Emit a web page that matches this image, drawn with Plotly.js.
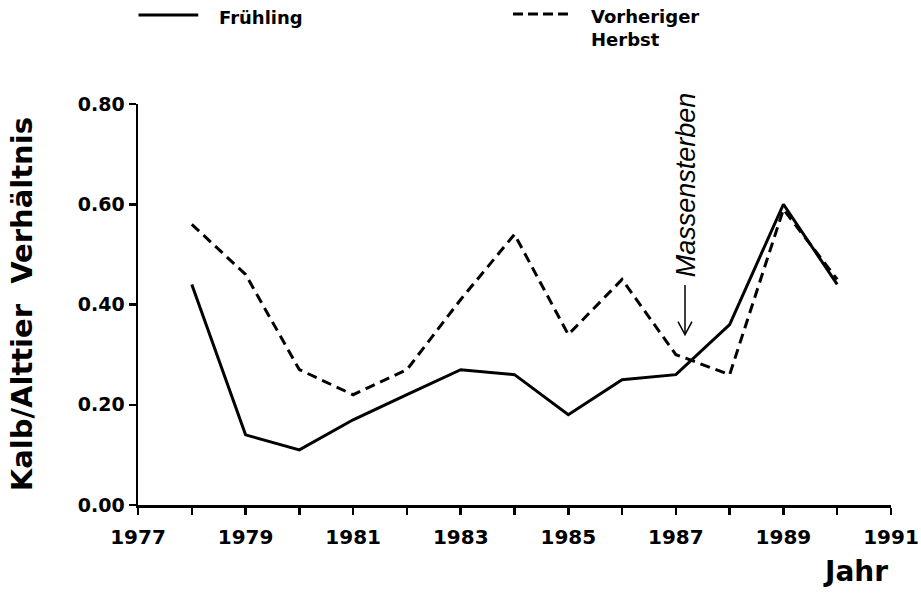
<!DOCTYPE html>
<html>
<head>
<meta charset="utf-8">
<script src="https://cdn.plot.ly/plotly-3.0.1.min.js"></script>
<style>
  html, body { margin: 0; padding: 0; background: #fff; }
  #chart { width: 921px; height: 593px; }
</style>
</head>
<body>
<div id="chart"></div>
<script>
// ---- data ----
const years = [1978, 1979, 1980, 1981, 1982, 1983, 1984, 1985, 1986, 1987, 1988, 1989, 1990];
const fruehling = [0.44, 0.14, 0.11, 0.17, 0.22, 0.27, 0.26, 0.18, 0.25, 0.26, 0.36, 0.60, 0.44];
const herbst = [0.56, 0.46, 0.27, 0.22, 0.27, 0.41, 0.54, 0.34, 0.45, 0.30, 0.26, 0.59, 0.45];
const tickYears = [1977, 1978, 1979, 1980, 1981, 1982, 1983, 1984, 1985, 1986, 1987, 1988, 1989, 1990, 1991];
const tickYearLabels = ['1977', '', '1979', '', '1981', '', '1983', '', '1985', '', '1987', '', '1989', '', '1991'];
const yTickVals = [0, 0.2, 0.4, 0.6, 0.8];
const yTickLabels = ['0.00', '0.20', '0.40', '0.60', '0.80'];
const seriesNames = ['Frühling', 'Vorheriger<br>Herbst'];
const eventYear = 1987.17;
const eventLabel = 'Massensterben';
const xTitle = 'Jahr';
const yTitle = 'Kalb/Alttier  Verhältnis';

const boldFont = { family: 'DejaVu Sans, Arial, sans-serif', color: '#000', weight: 700 };
const DASH = '10px,6px';

const traces = [
  { x: years, y: fruehling, type: 'scatter', mode: 'lines', name: seriesNames[0],
    line: { color: '#000', width: 3 }, showlegend: false },
  { x: years, y: herbst, type: 'scatter', mode: 'lines', name: seriesNames[1],
    line: { color: '#000', width: 3, dash: DASH }, showlegend: false }
];

const layout = {
  width: 921, height: 593,
  margin: { l: 137.5, r: 30, t: 104, b: 87.5 },
  paper_bgcolor: '#fff', plot_bgcolor: '#fff',
  showlegend: false,
  xaxis: {
    range: [1977, 1991], tickmode: 'array', tickvals: tickYears, ticktext: tickYearLabels,
    showgrid: false, zeroline: false, showline: true, linecolor: '#000', linewidth: 2.5,
    ticks: 'outside', ticklen: 7, tickwidth: 2.5, tickcolor: '#000', ticklabelstandoff: 5,
    tickfont: Object.assign({ size: 20 }, boldFont), fixedrange: true
  },
  yaxis: {
    range: [0, 0.8], tickmode: 'array', tickvals: yTickVals, ticktext: yTickLabels,
    showgrid: false, zeroline: false, showline: true, linecolor: '#000', linewidth: 2.5,
    ticks: 'outside', ticklen: 7, tickwidth: 2.5, tickcolor: '#000',
    tickfont: Object.assign({ size: 19 }, boldFont), fixedrange: true
  },
  shapes: [
    // legend keys
    { type: 'line', xref: 'paper', yref: 'paper', x0: 0.0007, x1: 0.080, y0: 1.2217, y1: 1.2217,
      line: { color: '#000', width: 3 } },
    { type: 'line', xref: 'paper', yref: 'paper', x0: 0.498, x1: 0.571, y0: 1.2242, y1: 1.2242,
      line: { color: '#000', width: 3, dash: '10px,5px' } },
    // event arrow
    { type: 'line', xref: 'x', yref: 'y', x0: eventYear, x1: eventYear, y0: 0.439, y1: 0.342,
      line: { color: '#000', width: 1.5 } },
    { type: 'path', xref: 'x', yref: 'y',
      path: 'M ' + (eventYear - 0.13) + ',0.366 L ' + eventYear + ',0.340 L ' + (eventYear + 0.13) + ',0.366',
      line: { color: '#000', width: 1.5 } }
  ],
  annotations: [
    { text: seriesNames[0], xref: 'paper', yref: 'paper', x: 0.1055, y: 1.2167,
      xanchor: 'left', yanchor: 'middle', showarrow: false,
      font: Object.assign({ size: 18 }, boldFont) },
    { text: seriesNames[1], xref: 'paper', yref: 'paper', x: 0.599, y: 1.19,
      xanchor: 'left', yanchor: 'middle', align: 'left', showarrow: false,
      font: Object.assign({ size: 18 }, boldFont) },
    { text: eventLabel, xref: 'x', yref: 'y', x: eventYear + 0.02, y: 0.638,
      textangle: -90, showarrow: false, xanchor: 'center', yanchor: 'middle',
      font: { family: 'Liberation Sans, Arial, sans-serif', size: 27, color: '#000', style: 'italic' } },
    { text: xTitle, xref: 'paper', yref: 'paper', x: 0.953, y: -0.1656,
      xanchor: 'center', yanchor: 'middle', showarrow: false,
      font: Object.assign({ size: 28 }, boldFont) },
    { text: yTitle, xref: 'paper', yref: 'paper', x: -0.1546, y: 0.4994,
      xanchor: 'center', yanchor: 'middle', textangle: -90, showarrow: false,
      font: Object.assign({ size: 29 }, boldFont) }
  ]
};

Plotly.newPlot('chart', traces, layout, { staticPlot: true, displayModeBar: false });
</script>
</body>
</html>
